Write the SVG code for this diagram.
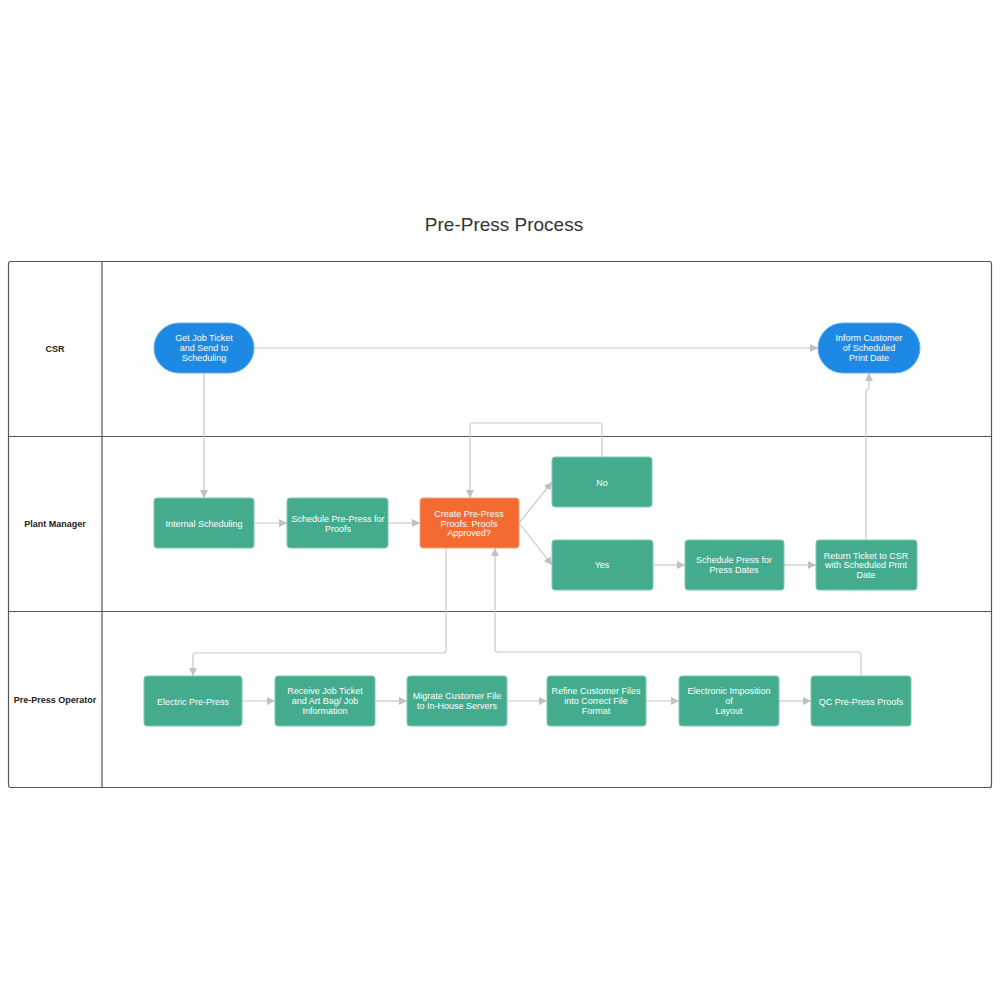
<svg xmlns="http://www.w3.org/2000/svg" width="1000" height="1000" viewBox="0 0 1000 1000">
<style>
.lane{fill:none;stroke:#555;stroke-width:1.2}
.ln{font-family:"Liberation Sans",Arial,sans-serif;font-size:9px;font-weight:bold;fill:#222;text-anchor:middle}
.t{font-family:"Liberation Sans",Arial,sans-serif;font-size:9px;fill:#fff;text-anchor:middle}
.g{fill:#45ab8e;stroke:#7fcab3;stroke-width:1}
.b{fill:#1e88e5;stroke:#64b0f0;stroke-width:1}
.o{fill:#f46b32;stroke:#f8a27c;stroke-width:1}
.c{fill:none;stroke:#c8c8c8;stroke-width:1.2}
</style>
<defs><marker id="a" viewBox="0 0 10 10" refX="10" refY="5" markerWidth="8" markerHeight="8" markerUnits="userSpaceOnUse" orient="auto"><path d="M0,0L10,5L0,10z" fill="#c0c0c0"/></marker></defs>
<rect width="1000" height="1000" fill="#fff"/>
<text x="504" y="231" font-family="Liberation Sans,Arial,sans-serif" font-size="19" fill="#333" text-anchor="middle">Pre-Press Process</text>
<g id="lanes">
<rect class="lane" x="8.5" y="261.5" width="983" height="526" rx="2"/>
<line class="lane" x1="102" y1="261.5" x2="102" y2="787.5"/>
<line class="lane" x1="8.5" y1="436.5" x2="991.5" y2="436.5"/>
<line class="lane" x1="8.5" y1="611.5" x2="991.5" y2="611.5"/>
<text class="ln" x="55" y="352">CSR</text>
<text class="ln" x="55" y="527">Plant Manager</text>
<text class="ln" x="55" y="703">Pre-Press Operator</text>
</g>
<g id="connectors">
<path class="c" d="M204,373V498" marker-end="url(#a)"/>
<path class="c" d="M254,348H818" marker-end="url(#a)"/>
<path class="c" d="M866,540V392Q866,389 869,389V373" marker-end="url(#a)"/>
<path class="c" d="M254,523H287" marker-end="url(#a)"/>
<path class="c" d="M388,523H420" marker-end="url(#a)"/>
<path class="c" d="M519,523L552,482" marker-end="url(#a)"/>
<path class="c" d="M519,523L552,565" marker-end="url(#a)"/>
<path class="c" d="M602,457V426Q602,423 599,423H473Q470,423 470,426V498" marker-end="url(#a)"/>
<path class="c" d="M653,565H685" marker-end="url(#a)"/>
<path class="c" d="M784,565H816" marker-end="url(#a)"/>
<path class="c" d="M446,548V650Q446,653 443,653H196Q193,653 193,656V676" marker-end="url(#a)"/>
<path class="c" d="M861,676V655Q861,652 858,652H498Q495,652 495,649V548" marker-end="url(#a)"/>
<path class="c" d="M242,701H275" marker-end="url(#a)"/>
<path class="c" d="M375,701H407" marker-end="url(#a)"/>
<path class="c" d="M507,701H547" marker-end="url(#a)"/>
<path class="c" d="M646,701H679" marker-end="url(#a)"/>
<path class="c" d="M779,701H811" marker-end="url(#a)"/>
</g>
<g id="n1"><rect class="b" x="154" y="323" width="100" height="50" rx="25"/><text class="t" x="204" y="341">Get Job Ticket</text><text class="t" x="204" y="351">and Send to</text><text class="t" x="204" y="361">Scheduling</text></g>
<g id="n2"><rect class="b" x="818" y="323" width="102" height="50" rx="25"/><text class="t" x="869" y="341">Inform Customer</text><text class="t" x="869" y="351">of Scheduled</text><text class="t" x="869" y="361">Print Date</text></g>
<g id="n3"><rect class="g" x="154" y="498" width="100" height="50" rx="3"/><text class="t" x="204" y="527">Internal Scheduling</text></g>
<g id="n4"><rect class="g" x="287" y="498" width="101" height="50" rx="3"/><text class="t" x="338" y="522">Schedule Pre-Press for</text><text class="t" x="338" y="532">Proofs</text></g>
<g id="n5"><rect class="o" x="420" y="498" width="99" height="50" rx="3"/><text class="t" x="469" y="517">Create Pre-Press</text><text class="t" x="469" y="527">Proofs. Proofs</text><text class="t" x="469" y="536">Approved?</text></g>
<g id="n6"><rect class="g" x="552" y="457" width="100" height="50" rx="3"/><text class="t" x="602" y="486">No</text></g>
<g id="n7"><rect class="g" x="552" y="540" width="101" height="50" rx="3"/><text class="t" x="602" y="568">Yes</text></g>
<g id="n8"><rect class="g" x="685" y="540" width="99" height="50" rx="3"/><text class="t" x="734" y="563">Schedule Press for</text><text class="t" x="734" y="573">Press Dates</text></g>
<g id="n9"><rect class="g" x="816" y="540" width="101" height="50" rx="3"/><text class="t" x="866" y="559">Return Ticket to CSR</text><text class="t" x="866" y="568">with Scheduled Print</text><text class="t" x="866" y="578">Date</text></g>
<g id="n10"><rect class="g" x="144" y="676" width="98" height="50" rx="3"/><text class="t" x="193" y="705">Electric Pre-Press</text></g>
<g id="n11"><rect class="g" x="275" y="676" width="100" height="50" rx="3"/><text class="t" x="325" y="694">Receive Job Ticket</text><text class="t" x="325" y="704">and Art Bag/ Job</text><text class="t" x="325" y="714">Information</text></g>
<g id="n12"><rect class="g" x="407" y="676" width="100" height="50" rx="3"/><text class="t" x="457" y="699">Migrate Customer File</text><text class="t" x="457" y="709">to In-House Servers</text></g>
<g id="n13"><rect class="g" x="547" y="676" width="99" height="50" rx="3"/><text class="t" x="596" y="694">Refine Customer Files</text><text class="t" x="596" y="704">into Correct File</text><text class="t" x="596" y="714">Format</text></g>
<g id="n14"><rect class="g" x="679" y="676" width="100" height="50" rx="3"/><text class="t" x="729" y="694">Electronic Imposition</text><text class="t" x="729" y="704">of</text><text class="t" x="729" y="714">Layout</text></g>
<g id="n15"><rect class="g" x="811" y="676" width="100" height="50" rx="3"/><text class="t" x="861" y="705">QC Pre-Press Proofs</text></g>
</svg>
